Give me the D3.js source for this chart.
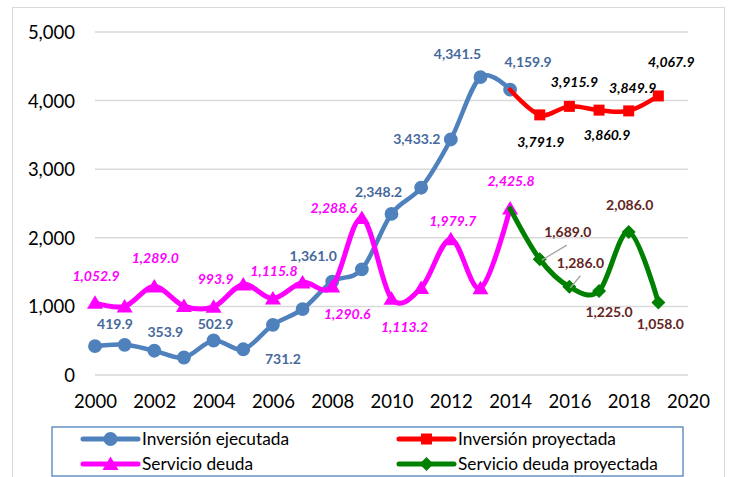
<!DOCTYPE html>
<html>
<head>
<meta charset="utf-8">
<script src="https://cdn.jsdelivr.net/npm/d3@7"></script>
<style>
html,body{margin:0;padding:0;background:#fff;}
svg{display:block;}
</style>
</head>
<body>
<svg id="chart" width="729" height="477"></svg>
<script>
// ---- DATA ----
const yearsEjec = [2000,2001,2002,2003,2004,2005,2006,2007,2008,2009,2010,2011,2012,2013,2014];
const yearsProy = [2014,2015,2016,2017,2018,2019];
const invEjecutada = [419.9,440,353.9,255,502.9,375,731.2,960,1361.0,1540,2348.2,2730,3433.2,4341.5,4159.9];
const invProyectada = [4159.9,3791.9,3915.9,3860.9,3849.9,4067.9];
const servDeuda = [1052.9,1000,1289.0,1005,993.9,1320,1115.8,1350,1290.6,2288.6,1113.2,1270,1979.7,1265,2425.8];
const servDeudaProy = [2425.8,1689.0,1286.0,1225.0,2086.0,1058.0];
const yTicks = [0,1000,2000,3000,4000,5000];
const xTicks = [2000,2002,2004,2006,2008,2010,2012,2014,2016,2018,2020];
const legendNames = ["Inversión ejecutada","Inversión proyectada","Servicio deuda","Servicio deuda proyectada"];

// which points carry a value label (indices into each series)
const lblEjec = [0,2,4,6,8,10,12,13,14];
const lblProy = [1,2,3,4,5];
const lblDeuda = [0,2,4,6,8,9,10,12,14];
const lblDeudaProy = [1,2,3,4,5];

// ---- LAYOUT (label offsets in px from point) ----
const offEjec = [[20,-22],[11,-19],[2,-16],[10,34],[-19,-26],[-13,-22],[-34,0],[-23,-23],[18,-28]];
const offProy = [[1,27],[5,-24],[8,25],[4,-23],[13,-34]];
const offDeuda = [[1,-27],[1,-28],[2,-28],[1,-27],[15,28],[-28,-10],[13,28],[2,-18],[1,-27]];
const offDeudaProy = [[28,-27],[11,-24],[10,21],[1,-27],[2,22]];
const leaderIdx = {1:[[2,1],[27,-14]], 2:[[1,1],[11,-11]]};

const svg = d3.select("#chart");
const FONT = "Lato, 'Open Sans', sans-serif";

// outer chart border
svg.append("rect").attr("x",12.5).attr("y",7.5).attr("width",712).attr("height",480)
  .attr("fill","#fff").attr("stroke","#D9D9D9").attr("stroke-width",1);

const x = d3.scaleLinear().domain([2000,2020]).range([95,688]);
const y = d3.scaleLinear().domain([0,5000]).range([375,32]);

// gridlines
svg.append("g").selectAll("line").data(yTicks).join("line")
  .attr("x1",95).attr("x2",688)
  .attr("y1",d=>y(d)).attr("y2",d=>y(d))
  .attr("stroke","#D9D9D9").attr("stroke-width",1.5);

// y axis
const yAxis = d3.axisLeft(y).tickValues(yTicks).tickFormat(d3.format(",")).tickSize(0).tickPadding(0);
const gy = svg.append("g").attr("transform","translate(75,0)").call(yAxis);
gy.select(".domain").remove();
gy.selectAll("text").attr("font-family",FONT).attr("font-size",18.5).attr("fill","#000").attr("dy","0.35em");

// x axis
const xAxis = d3.axisBottom(x).tickValues(xTicks).tickFormat(d3.format("d")).tickSize(0).tickPadding(0);
const gx = svg.append("g").attr("transform","translate(0,402)").call(xAxis);
gx.select(".domain").remove();
gx.selectAll("text").attr("font-family",FONT).attr("font-size",18.5).attr("fill","#000").attr("dy","0.35em");

const line = d3.line().curve(d3.curveCardinal.tension(0));

const series = [
  {yrs:yearsEjec, vals:invEjecutada, color:"#4F81BD", w:4.5, marker:"circle", lbl:lblEjec, off:offEjec, lc:"#46699C", italic:false},
  {yrs:yearsProy, vals:invProyectada, color:"#FF0000", w:4.5, marker:"square", lbl:lblProy, off:offProy, lc:"#000000", italic:true},
  {yrs:yearsEjec, vals:servDeuda, color:"#FF00FF", w:5, marker:"triangle", lbl:lblDeuda, off:offDeuda, lc:"#FF00FF", italic:true},
  {yrs:yearsProy, vals:servDeudaProy, color:"#008000", w:5, marker:"diamond", lbl:lblDeudaProy, off:offDeudaProy, lc:"#632523", italic:false}
];

function markerPath(type){
  switch(type){
    case "circle": return d3.symbol(d3.symbolCircle, 150)();
    case "square": return "M-5.5,-5.5H5.5V5.5H-5.5Z";
    case "triangle": return "M0,-7.5L8,6L-8,6Z";
    case "diamond": return "M0,-7L7,0L0,7L-7,0Z";
  }
}

const gSeries = svg.append("g");
series.forEach((s,si)=>{
  const pts = s.yrs.map((yr,i)=>[x(yr), y(s.vals[i])]);
  gSeries.append("path").attr("d",line(pts)).attr("fill","none")
    .attr("stroke",s.color).attr("stroke-width",s.w).attr("stroke-linejoin","round").attr("stroke-linecap","round");
  const skipFirst = (si===1 || si===3);
  gSeries.append("g").selectAll("path").data(pts.filter((p,i)=>!(skipFirst && i===0))).join("path")
    .attr("d",markerPath(s.marker)).attr("transform",d=>`translate(${d[0]},${d[1]})`)
    .attr("fill",s.color);
});

// leader lines
const gLeader = svg.append("g");
Object.keys(leaderIdx).forEach(k=>{
  const i = +k;
  const px = x(yearsProy[i]), py = y(servDeudaProy[i]);
  const [a,b] = leaderIdx[k];
  gLeader.append("line").attr("x1",px+a[0]).attr("y1",py+a[1]).attr("x2",px+b[0]).attr("y2",py+b[1])
    .attr("stroke","#A6A6A6").attr("stroke-width",1.3);
});

// labels
const fmt = d3.format(",.1f");
const gLabels = svg.append("g");
series.forEach(s=>{
  s.lbl.forEach((idx,j)=>{
    gLabels.append("text")
      .attr("x", x(s.yrs[idx]) + s.off[j][0])
      .attr("y", y(s.vals[idx]) + s.off[j][1])
      .attr("dy","0.35em")
      .attr("text-anchor","middle")
      .attr("font-family",FONT).attr("font-size",14).attr("font-weight","bold")
      .attr("font-style", s.italic ? "italic" : "normal")
      .attr("fill", s.lc)
      .text(fmt(s.vals[idx]));
  });
});

// legend
const lg = svg.append("g");
lg.append("rect").attr("x",52).attr("y",427).attr("width",631).attr("height",49)
  .attr("fill","#fff").attr("stroke","#4F81BD").attr("stroke-width",1.3);
const legPos = [[83,439],[399,439],[83,464],[399,464]];
series.forEach((s,i)=>{
  const [lx,ly] = legPos[i];
  lg.append("line").attr("x1",lx).attr("x2",lx+55).attr("y1",ly).attr("y2",ly)
    .attr("stroke",s.color).attr("stroke-width",5).attr("stroke-linecap","round");
  lg.append("path").attr("d",markerPath(s.marker)).attr("transform",`translate(${lx+27.5},${ly})`).attr("fill",s.color);
  lg.append("text").attr("x",lx+59).attr("y",ly).attr("dy","0.35em")
    .attr("font-family",FONT).attr("font-size",17.3).attr("fill","#000").text(legendNames[i]);
});
</script>
</body>
</html>
